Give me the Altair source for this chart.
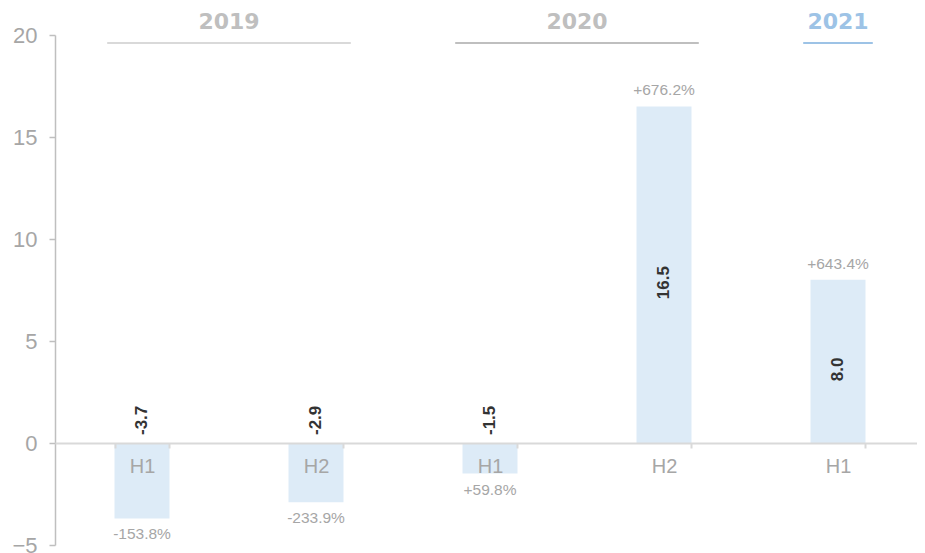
import altair as alt
import pandas as pd

years = ["2019", "2019", "2020", "2020", "2021"]
halves = ["H1", "H2", "H1", "H2", "H1"]
values = [-3.7, -2.9, -1.5, 16.5, 8.0]
changes = ["-153.8%", "-233.9%", "+59.8%", "+676.2%", "+643.4%"]

header_years = ["2019", "2020", "2021"]
header_text_colors = ["#bfbfbf", "#bfbfbf", "#9dc3e6"]
header_rule_colors = ["#d9d9d9", "#bfbfbf", "#9dc3e6"]

y_ticks = [-5, 0, 5, 10, 15, 20]

df = pd.DataFrame({"year": years, "half": halves, "value": values, "change": changes})
df["key"] = df["year"] + " " + df["half"]
df["label"] = df["value"].map(lambda v: f"{v:.1f}")
keys = list(df["key"])

rows = []
for yr, tc, rc in zip(header_years, header_text_colors, header_rule_colors):
    idx = [i for i, y in enumerate(years) if y == yr]
    s, e = min(idx), max(idx)
    rows.append({"year": yr, "center": (s + e) / 2 + 0.5,
                 "x1": s + 0.5 - 0.2, "x2": e + 0.5 + 0.2, "tc": tc, "rc": rc})
hdf = pd.DataFrame(rows)

W_VIEW, W_PLOT = 862, 870
H_VIEW, H_PLOT = 510, 510

xenc = alt.X(
    "key:N", sort=keys,
    scale=alt.Scale(paddingInner=0.684, paddingOuter=0.342, range=[0, W_PLOT]),
    axis=alt.Axis(
        title=None, labelExpr="split(datum.label, ' ')[1]", labelAngle=0,
        offset=-102, domainColor="#d9d9d9", domainWidth=2,
        tickColor="#d9d9d9", tickWidth=2, tickSize=5, tickBand="extent",
        labelColor="#a6a6a6", labelFont="Liberation Sans", labelFontSize=20,
        labelPadding=8, zindex=1,
    ),
)
yscale = alt.Scale(domain=[-5, 20], nice=False, zero=False, range=[H_PLOT, 0])
yenc = alt.Y(
    "value:Q", scale=yscale,
    axis=alt.Axis(
        title=None, values=y_ticks, grid=False, domainColor="#bfbfbf",
        domainWidth=1.5, tickColor="#bfbfbf", tickWidth=1.5, tickSize=6,
        labelColor="#a6a6a6", labelFont="Liberation Sans", labelFontSize=22,
        labelPadding=12,
    ),
)

base = alt.Chart(df)
bars = base.mark_bar(color="#ddebf7").encode(x=xenc, y=yenc)

neg_val = base.transform_filter("datum.value < 0").mark_text(
    angle=270, align="left", baseline="middle", dx=8,
    font="Liberation Sans", fontWeight="bold", fontSize=17, color="#333333",
).encode(x=alt.X("key:N", sort=keys), y=alt.datum(0), text="label:N")

pos_val = base.transform_filter("datum.value >= 0").transform_calculate(
    mid="datum.value / 2"
).mark_text(
    angle=270, align="center", baseline="middle", dx=-8,
    font="Liberation Sans", fontWeight="bold", fontSize=17, color="#333333",
).encode(x=alt.X("key:N", sort=keys), y=alt.Y("mid:Q"), text="label:N")

neg_pct = base.transform_filter("datum.value < 0").mark_text(
    baseline="middle", dy=16, font="Liberation Sans", fontSize=15.5, color="#a6a6a6",
).encode(x=alt.X("key:N", sort=keys), y=alt.Y("value:Q"), text="change:N")

pos_pct = base.transform_filter("datum.value >= 0").mark_text(
    baseline="middle", dy=-16, font="Liberation Sans", fontSize=15.5, color="#a6a6a6",
).encode(x=alt.X("key:N", sort=keys), y=alt.Y("value:Q"), text="change:N")

main = alt.layer(bars, neg_val, pos_val, neg_pct, pos_pct)

hscale = alt.Scale(domain=[0, 5], nice=False, zero=False, range=[0, W_PLOT])
hbase = alt.Chart(hdf)
hrules = hbase.mark_rule(strokeWidth=2).encode(
    x=alt.X("x1:Q", scale=hscale, axis=None), x2="x2:Q",
    y=alt.value(8), color=alt.Color("rc:N", scale=None),
)
htext = hbase.mark_text(
    font="DejaVu Sans", fontWeight="bold", fontSize=22, baseline="middle",
).encode(
    x=alt.X("center:Q", scale=hscale, axis=None), y=alt.value(-13),
    text="year:N", color=alt.Color("tc:N", scale=None),
)
header = alt.layer(hrules, htext)

chart = alt.layer(main, header).resolve_scale(x="independent").properties(
    width=W_VIEW, height=H_VIEW,
    autosize=alt.AutoSizeParams(type="none"),
    padding={"left": 47, "top": 27, "right": 0, "bottom": 8},
).configure_view(stroke=None)

chart.save("out.html", embed_options={"renderer": "svg", "actions": False})
